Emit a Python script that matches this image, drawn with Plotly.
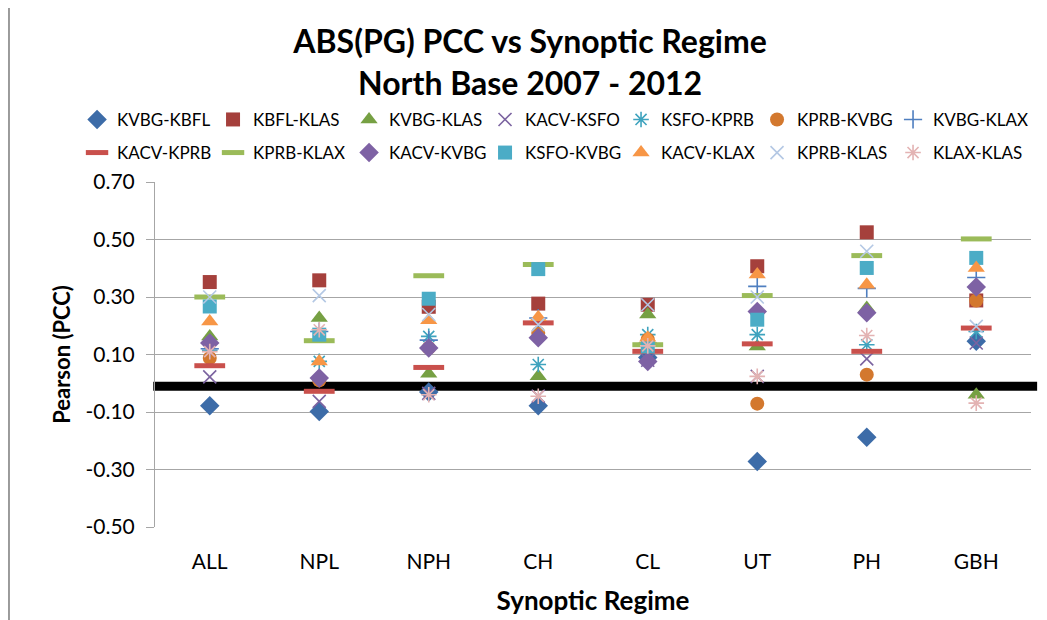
import plotly.graph_objects as go

regimes = ['ALL', 'NPL', 'NPH', 'CH', 'CL', 'UT', 'PH', 'GBH']

ytick_vals = [-0.5, -0.3, -0.1, 0.1, 0.3, 0.5, 0.7]
ytick_text = ['-0.50', '-0.30', '-0.10', '0.10', '0.30', '0.50', '0.70']

# PCC values per station pair, one value per regime (order as in regimes)
kvbg_kbfl = [-0.078, -0.098, -0.030, -0.078, 0.090, -0.272, -0.188, 0.146]
kbfl_klas = [0.352, 0.358, 0.266, 0.277, 0.273, 0.407, 0.525, 0.288]
kvbg_klas = [0.163, 0.227, 0.033, 0.024, 0.239, 0.128, 0.262, -0.040]
kacv_ksfo = [0.022, -0.063, -0.035, -0.045, 0.080, 0.024, 0.085, 0.140]
ksfo_kprb = [0.115, 0.076, 0.163, 0.065, 0.169, 0.169, 0.134, 0.180]
kprb_kvbg = [0.088, 0.010, 0.123, 0.175, 0.152, -0.071, 0.030, 0.288]
kvbg_klax = [0.120, 0.180, 0.150, 0.227, 0.140, 0.337, 0.330, 0.368]
kacv_kprb = [0.061, -0.028, 0.055, 0.210, 0.111, 0.137, 0.111, 0.192]
kprb_klax = [0.300, 0.148, 0.374, 0.413, 0.134, 0.305, 0.444, 0.502]
kacv_kvbg = [0.140, 0.018, 0.123, 0.158, 0.076, 0.250, 0.245, 0.335]
ksfo_kvbg = [0.267, 0.169, 0.294, 0.397, 0.128, 0.221, 0.401, 0.436]
kacv_klax = [0.215, 0.076, 0.219, 0.230, 0.158, 0.378, 0.343, 0.401]
kprb_klas = [0.300, 0.305, 0.239, 0.204, 0.273, 0.300, 0.459, 0.198]
klax_klas = [0.110, 0.186, -0.040, -0.045, 0.130, 0.024, 0.166, -0.069]

zero_line = -0.01

# name, values, symbol, colour, size, outline width
series = [
    ('KVBG-KBFL', kvbg_kbfl, 'diamond', '#3D6CA8', 15, 0),
    ('KBFL-KLAS', kbfl_klas, 'square', '#A5403C', 14, 0),
    ('KVBG-KLAS', kvbg_klas, 'triangle-up', '#76A043', 15, 0),
    ('KACV-KSFO', kacv_ksfo, 'x-thin-open', '#7B63A0', 13, 1.6),
    ('KSFO-KPRB', ksfo_kprb, 'asterisk-open', '#3FA3BE', 13, 1.6),
    ('KPRB-KVBG', kprb_kvbg, 'circle', '#D3782E', 14, 0),
    ('KVBG-KLAX', kvbg_klax, 'cross-thin-open', '#4F7FC0', 13, 1.6),
    ('KACV-KPRB', kacv_kprb, 'line-ew-open', '#C9504C', 22, 5),
    ('KPRB-KLAX', kprb_klax, 'line-ew-open', '#9BBB59', 22, 5),
    ('KACV-KVBG', kacv_kvbg, 'diamond', '#7E62A4', 15, 0),
    ('KSFO-KVBG', ksfo_kvbg, 'square', '#4BACC6', 14, 0),
    ('KACV-KLAX', kacv_klax, 'triangle-up', '#F79646', 15, 0),
    ('KPRB-KLAS', kprb_klas, 'x-thin-open', '#B4C8E4', 13, 1.6),
    ('KLAX-KLAS', klax_klas, 'asterisk-open', '#E3B3B3', 13, 1.6),
]

FONT = 'Lato'

fig = go.Figure()
for i, (name, vals, sym, col, size, lw) in enumerate(series):
    mk = dict(symbol=sym, color=col, size=size)
    if lw:
        mk['line'] = dict(color=col, width=lw)
    else:
        mk['line'] = dict(width=0)
    fig.add_trace(go.Scatter(
        x=regimes, y=vals, name=name, mode='markers', marker=mk,
        legend='legend' if i < 7 else 'legend2',
    ))

fig.add_shape(type='line', xref='paper', yref='y', x0=-0.002, x1=1.007,
              y0=zero_line, y1=zero_line, line=dict(color='black', width=9),
              layer='between')
# chart area border on the left
fig.add_shape(type='line', xref='paper', yref='paper', x0=-0.1667, x1=-0.1667,
              y0=-0.3, y1=1.6, line=dict(color='#9a9a9a', width=2))

leg = dict(orientation='h', xref='paper', yref='paper', xanchor='left',
           yanchor='middle', entrywidth=91, entrywidthmode='pixels',
           font=dict(family=FONT, size=17, color='black'),
           bgcolor='rgba(0,0,0,0)', itemwidth=30, tracegroupgap=0)

# page body has an 8px margin, so the figure is 8px smaller each way
fig.update_layout(
    width=1039, height=612,
    paper_bgcolor='white', plot_bgcolor='white',
    margin=dict(l=147, r=16, t=174, b=93, autoexpand=False),
    font=dict(family=FONT, color='black'),
    title=dict(text='<b>ABS(PG) PCC vs Synoptic Regime<br>North Base 2007 - 2012</b>',
               x=0.5025, xanchor='center', y=0.9257, yanchor='top',
               font=dict(family=FONT, size=32, color='black')),
    legend=dict(leg, x=-0.089, y=1.180),
    legend2=dict(leg, x=-0.089, y=1.084),
    xaxis=dict(type='category', range=[-0.5, 7.5], showgrid=False,
               showline=False, ticks='', zeroline=False,
               ticklabelstandoff=20,
               tickfont=dict(family=FONT, size=21, color='black'),
               title=dict(text='<b>Synoptic Regime</b>', standoff=19,
                          font=dict(family=FONT, size=26, color='black'))),
    yaxis=dict(range=[-0.5, 0.7], tickvals=ytick_vals, ticktext=ytick_text,
               showgrid=True, gridcolor='#a6a6a6', gridwidth=1,
               showline=True, linecolor='#a6a6a6', linewidth=1,
               ticks='outside', ticklen=8, tickcolor='#a6a6a6', zeroline=False,
               ticklabelstandoff=7,
               tickfont=dict(family=FONT, size=21, color='black'),
               title=dict(text='<b>Pearson (PCC)</b>', standoff=8,
                          font=dict(family=FONT, size=22, color='black'))),
    showlegend=True,
)

fig.write_html('out.html')
